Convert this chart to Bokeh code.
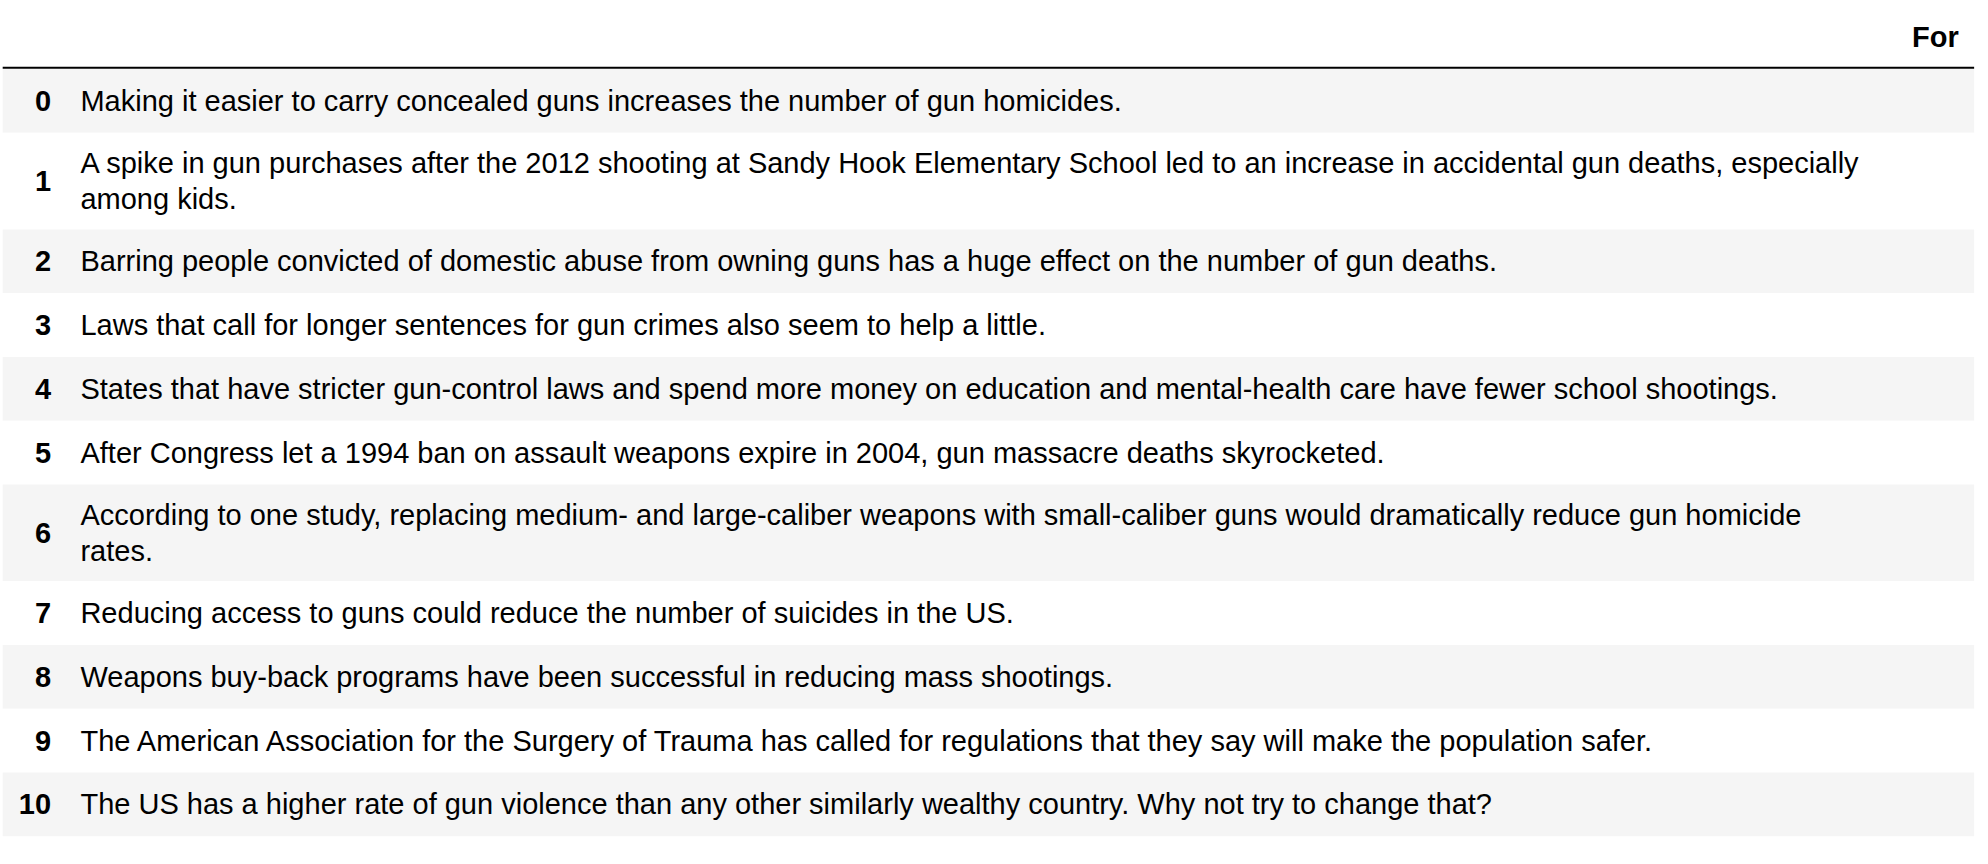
from bokeh.plotting import figure
from bokeh.models import ColumnDataSource, Range1d
from bokeh.core.properties import value
from bokeh.embed import file_html
from bokeh.resources import INLINE

header = "For"
index = [str(i) for i in range(11)]
statements = [
    "Making it easier to carry concealed guns increases the number of gun homicides.",
    "A spike in gun purchases after the 2012 shooting at Sandy Hook Elementary School led to an increase in accidental gun deaths, especially\namong kids.",
    "Barring people convicted of domestic abuse from owning guns has a huge effect on the number of gun deaths.",
    "Laws that call for longer sentences for gun crimes also seem to help a little.",
    "States that have stricter gun-control laws and spend more money on education and mental-health care have fewer school shootings.",
    "After Congress let a 1994 ban on assault weapons expire in 2004, gun massacre deaths skyrocketed.",
    "According to one study, replacing medium- and large-caliber weapons with small-caliber guns would dramatically reduce gun homicide\nrates.",
    "Reducing access to guns could reduce the number of suicides in the US.",
    "Weapons buy-back programs have been successful in reducing mass shootings.",
    "The American Association for the Surgery of Trauma has called for regulations that they say will make the population safer.",
    "The US has a higher rate of gun violence than any other similarly wealthy country. Why not try to change that?",
]

W, H = 1975, 848
S = 1988 / 1560  # pixels per layout unit
OFF = 8 / S
FONT = value("Liberation Sans")
FS = "29px"
p = figure(width=W, height=H, output_backend="svg", toolbar_location=None,
           x_range=Range1d(OFF, OFF + W / S), y_range=Range1d(OFF + H / S, OFF))
p.axis.visible = False
p.grid.visible = False
p.outline_line_color = None
p.min_border = 0

tops, bottoms, mids, colors = [], [], [], []
y = 60
for i, s in enumerate(statements):
    h = 50 + 26 * s.count("\n")
    tops.append(y)
    bottoms.append(y + h)
    mids.append(y + h / 2)
    colors.append("#f5f5f5" if i % 2 == 0 else "#ffffff")
    y += h

src = ColumnDataSource(dict(top=tops, bottom=bottoms, mid=mids, color=colors,
                            idx=index, txt=statements))
p.quad(left=8, right=1555, top="top", bottom="bottom", fill_color="color",
       line_color=None, source=src)
p.text(x=46, y="mid", text="idx", source=src, text_font=FONT, text_font_size=FS,
       text_font_style="bold", text_align="right", text_baseline="middle", text_color="black")
p.text(x=69, y="mid", text="txt", source=src, text_font=FONT, text_font_size=FS,
       text_align="left", text_baseline="middle", text_color="black", text_line_height=1.12)
p.text(x=[1543], y=[35], text=[header], text_font=FONT, text_font_size=FS,
       text_font_style="bold", text_align="right", text_baseline="middle")
p.segment(x0=[8], y0=[59], x1=[1555], y1=[59], line_color="black", line_width=2)

open("out.html", "w").write(file_html(p, INLINE))
